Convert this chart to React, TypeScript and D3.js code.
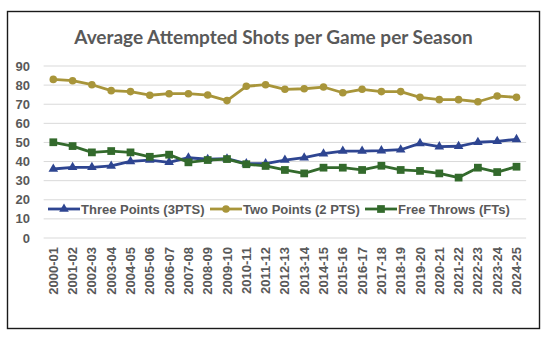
import React, { useEffect, useRef } from "react";
import * as d3 from "d3";

const seasons = [
  "2000-01", "2001-02", "2002-03", "2003-04", "2004-05", "2005-06", "2006-07",
  "2007-08", "2008-09", "2009-10", "2010-11", "2011-12", "2012-13", "2013-14",
  "2014-15", "2015-16", "2016-17", "2017-18", "2018-19", "2019-20", "2020-21",
  "2021-22", "2022-23", "2023-24", "2024-25",
];

const threePoints = [
  36.1, 37.0, 37.0, 37.7, 40.1, 40.8, 39.6, 42.0, 41.2, 41.5, 38.9, 38.9, 40.8,
  42.0, 44.1, 45.5, 45.5, 45.7, 46.2, 49.5, 47.8, 48.0, 50.1, 50.6, 51.6,
];

const twoPoints = [
  83.0, 82.3, 80.2, 77.1, 76.6, 74.7, 75.5, 75.5, 74.8, 71.9, 79.4, 80.2, 77.8,
  78.1, 79.0, 76.0, 77.8, 76.6, 76.6, 73.6, 72.4, 72.4, 71.3, 74.3, 73.6,
];

const freeThrows = [
  50.1, 48.1, 44.8, 45.5, 44.8, 42.5, 43.6, 39.6, 40.8, 41.3, 38.6, 37.7, 35.6,
  33.8, 36.8, 36.8, 35.6, 37.8, 35.6, 35.1, 33.8, 31.6, 36.8, 34.5, 37.3,
];

const yTicks = [0, 10, 20, 30, 40, 50, 60, 70, 80, 90];

const seriesNames = ["Three Points (3PTS)", "Two Points (2 PTS)", "Free Throws (FTs)"];

const W = 550;
const H = 339;
const TEXT = "#595959";
const FONT = "'Liberation Sans', Arial, sans-serif";

export default function App() {
  const ref = useRef<SVGSVGElement>(null);

  useEffect(() => {
    const svg = d3.select(ref.current);
    svg.selectAll("*").remove();

    // frame
    svg.append("rect")
      .attr("x", 7.5).attr("y", 11.5)
      .attr("width", 532).attr("height", 317)
      .attr("fill", "#fff")
      .attr("stroke", "#1a1a1a")
      .attr("stroke-width", 1.4);

    // title
    svg.append("text")
      .attr("x", 273.5).attr("y", 44)
      .attr("text-anchor", "middle")
      .attr("font-family", "Lato, sans-serif")
      .attr("font-weight", "bold")
      .attr("font-size", 19)
      .attr("fill", TEXT)
      .text("Average Attempted Shots per Game per Season");

    const x = d3.scalePoint<string>().domain(seasons).range([53.3, 516.5]);
    const step = x.step();
    const y = d3.scaleLinear().domain([0, 90]).range([238, 66]);

    // gridlines
    svg.append("g")
      .selectAll("line")
      .data(yTicks)
      .join("line")
      .attr("x1", 53.3 - step / 2)
      .attr("x2", 516.5 + step / 2)
      .attr("y1", (d) => y(d))
      .attr("y2", (d) => y(d))
      .attr("stroke", "#d9d9d9")
      .attr("stroke-width", 1);

    // y labels
    svg.append("g")
      .selectAll("text")
      .data(yTicks)
      .join("text")
      .attr("x", 30)
      .attr("y", (d) => y(d))
      .attr("dy", "0.35em")
      .attr("text-anchor", "end")
      .attr("font-family", FONT)
      .attr("font-weight", "bold")
      .attr("font-size", 13)
      .attr("fill", TEXT)
      .text((d) => d);

    // x labels
    svg.append("g")
      .selectAll("text")
      .data(seasons)
      .join("text")
      .attr("transform", (d) => `translate(${x(d)},247) rotate(-90)`)
      .attr("dy", "0.35em")
      .attr("text-anchor", "end")
      .attr("font-family", FONT)
      .attr("font-weight", "bold")
      .attr("font-size", 13)
      .attr("fill", TEXT)
      .text((d) => d);

    const series = [
      { name: seriesNames[0], values: threePoints, color: "#2e4591", marker: d3.symbolTriangle, size: 40 },
      { name: seriesNames[1], values: twoPoints, color: "#a8953a", marker: d3.symbolCircle, size: 45 },
      { name: seriesNames[2], values: freeThrows, color: "#336a2c", marker: d3.symbolSquare, size: 60 },
    ];

    const line = d3.line<number>()
      .x((d, i) => x(seasons[i]) as number)
      .y((d) => y(d));

    series.forEach((s) => {
      const g = svg.append("g");
      g.append("path")
        .attr("d", line(s.values))
        .attr("fill", "none")
        .attr("stroke", s.color)
        .attr("stroke-width", 2.8)
        .attr("stroke-linejoin", "round");
      g.selectAll("path.m")
        .data(s.values)
        .join("path")
        .attr("class", "m")
        .attr("transform", (d, i) => `translate(${x(seasons[i])},${y(d)})`)
        .attr("d", d3.symbol(s.marker, s.size)())
        .attr("fill", s.color);
    });

    // legend
    const legendY = 209;
    const legendX = [48, 210, 365];
    series.forEach((s, i) => {
      const g = svg.append("g").attr("transform", `translate(${legendX[i]},${legendY})`);
      g.append("line")
        .attr("x1", 0).attr("x2", 32)
        .attr("stroke", s.color)
        .attr("stroke-width", 2.8);
      g.append("path")
        .attr("transform", "translate(16,0)")
        .attr("d", d3.symbol(s.marker, s.size)())
        .attr("fill", s.color);
      g.append("text")
        .attr("x", 33)
        .attr("dy", "0.35em")
        .attr("font-family", FONT)
        .attr("font-weight", "bold")
        .attr("font-size", 13)
        .attr("fill", TEXT)
        .text(s.name);
    });
  }, []);

  return (
    <svg
      ref={ref}
      width={W}
      height={H}
      style={{ position: "absolute", left: 0, top: 0, background: "#fff" }}
    />
  );
}
